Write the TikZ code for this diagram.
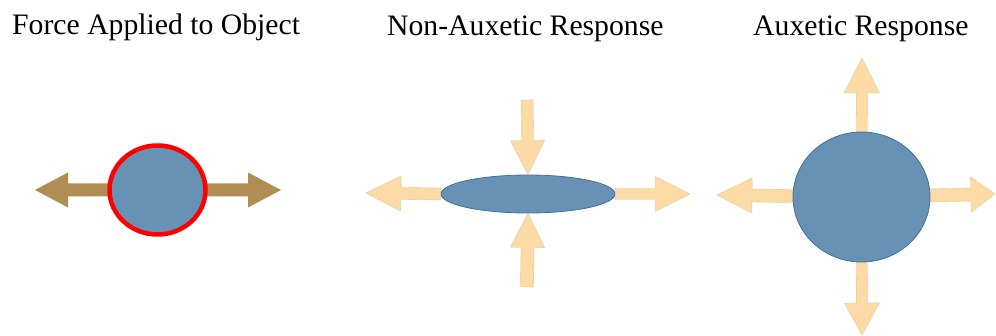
\documentclass[tikz,border=0pt]{standalone}
\usepackage{fontspec}
\setmainfont{Liberation Serif}
\usetikzlibrary{shapes.geometric,calc}

\definecolor{bodyblue}{HTML}{6792B5}
\definecolor{bodyedge}{HTML}{41719C}
\definecolor{forcebrown}{HTML}{B08D52}
\definecolor{pushfill}{HTML}{FDDBA7}
\definecolor{pushedge}{HTML}{E9C58F}

% block arrow: #1 style, #2 tail, #3 tip, #4 shaft half-width, #5 head half-width, #6 head length (all pt)
\newcommand\blockarr[6]{%
  \path[#1] let \p1=(#2), \p2=(#3),
      \n1={atan2(\y2-\y1,\x2-\x1)}, \n2={veclen(\x2-\x1,\y2-\y1)} in
    [shift={(\p1)}, rotate=\n1]
    (0pt,-#4pt) -- (\n2-#6pt,-#4pt) -- (\n2-#6pt,-#5pt) -- (\n2,0pt)
    -- (\n2-#6pt,#5pt) -- (\n2-#6pt,#4pt) -- (0pt,#4pt) -- cycle;}

\tikzset{
  title/.style={font=\fontsize{29.7}{34}\selectfont, anchor=base west, inner sep=0pt},
  body/.style={ellipse, fill=bodyblue, draw=bodyedge, line width=0.8pt, inner sep=0pt},
  loaded/.style={ellipse, fill=bodyblue, draw=red, line width=4.5pt, inner sep=0pt},
  forcearrow/.style={fill=forcebrown},
  pusharrow/.style={fill=pushfill, draw=pushedge, line width=0.4pt},
}

\begin{document}
\begin{tikzpicture}[x=1pt,y=-1pt]
\useasboundingbox (0,0) rectangle (996,336);

% titles
\node[title] (t1) at (12,35) {Force Applied to Object};
\node[title] (t2) at (387,36) {Non-Auxetic Response};
\node[title] (t3) at (753,36) {Auxetic Response};

% centres of the three bodies
\coordinate (c1) at (157.5,190);
\coordinate (c2) at (528,194);
\coordinate (c3) at (861.5,197);

% --- force applied to object ---
\coordinate (f1l) at (35,190);
\coordinate (f1r) at (281,190);
\blockarr{forcearrow}{c1}{f1l}{6.5}{17.5}{33}
\blockarr{forcearrow}{c1}{f1r}{6.5}{17.5}{33}
\node[loaded, minimum width=96pt, minimum height=89pt] (b1) at (c1) {};

% --- non-auxetic response ---
\node[body, minimum width=174pt, minimum height=38pt] (b2) at (c2) {};
\coordinate (n2l) at (366,193);
\coordinate (n2r) at (690,194);
\coordinate (n2t) at (527,100);
\coordinate (n2b) at (527,287);
\blockarr{pusharrow}{b2.west}{n2l}{6}{17.5}{35}
\blockarr{pusharrow}{b2.east}{n2r}{5.5}{17.5}{35}
\blockarr{pusharrow}{n2t}{b2.north}{6}{17}{34}
\blockarr{pusharrow}{n2b}{b2.south}{6.5}{17}{34}

% --- auxetic response ---
\coordinate (a3l) at (717,195);
\coordinate (a3r) at (995,194);
\coordinate (a3t) at (862,58);
\coordinate (a3b) at (862,335);
\blockarr{pusharrow}{c3}{a3l}{6.5}{17.5}{35}
\blockarr{pusharrow}{c3}{a3r}{6.5}{17.5}{24}
\blockarr{pusharrow}{c3}{a3t}{5.5}{17.5}{35}
\blockarr{pusharrow}{c3}{a3b}{5.5}{17.5}{32}
\node[body, minimum width=137pt, minimum height=130pt] (b3) at (c3) {};
\end{tikzpicture}
\end{document}
